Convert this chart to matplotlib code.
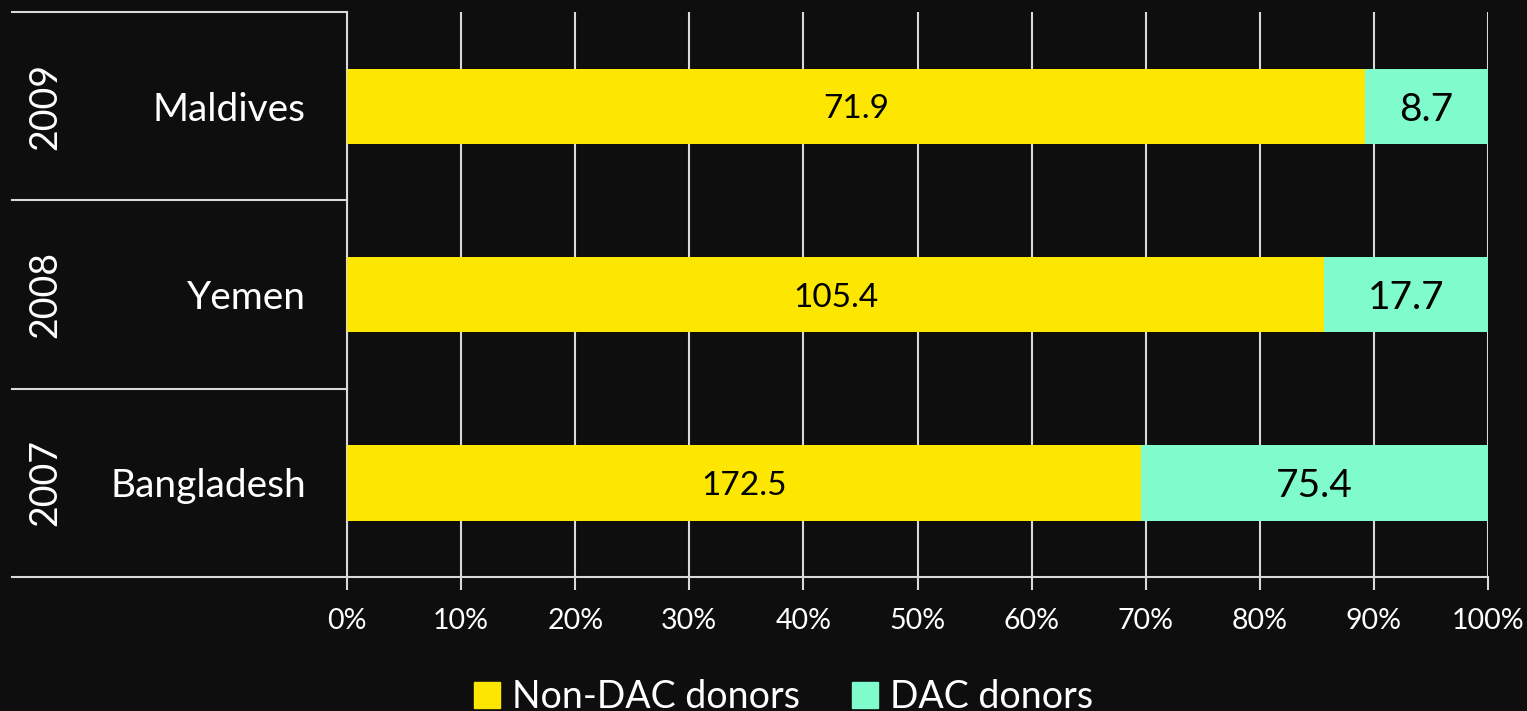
import matplotlib.pyplot as plt
import matplotlib.transforms as mtransforms
from matplotlib.patches import Patch

countries = ['Bangladesh', 'Yemen', 'Maldives']
years = ['2007', '2008', '2009']
non_dac = [172.5, 105.4, 71.9]
dac = [75.4, 17.7, 8.7]
tick_labels = ['0%', '10%', '20%', '30%', '40%', '50%', '60%', '70%', '80%', '90%', '100%']

bg = '#0e0e0e'
yellow = '#fde700'
mint = '#80fbcc'
line_c = '#d9d9d9'

plt.rcParams['font.family'] = ['Lato', 'DejaVu Sans']

fig = plt.figure(figsize=(15.27, 7.11), dpi=100, facecolor=bg)
ax = fig.add_axes([347 / 1527, 1 - 577 / 711, 1141 / 1527, 565 / 711])
ax.set_facecolor(bg)

totals = [a + b for a, b in zip(non_dac, dac)]
p1 = [a / t * 100 for a, t in zip(non_dac, totals)]
p2 = [b / t * 100 for b, t in zip(dac, totals)]
ypos = range(len(countries))

ax.barh(ypos, p1, height=0.4, color=yellow, zorder=3)
ax.barh(ypos, p2, left=p1, height=0.4, color=mint, zorder=3)

for i in ypos:
    ax.text(p1[i] / 2, i, f'{non_dac[i]}', ha='center', va='center_baseline',
            fontsize=24, color='black', zorder=4)
    ax.text(p1[i] + p2[i] / 2, i, f'{dac[i]}', ha='center', va='center_baseline',
            fontsize=28, color='black', zorder=4)

ax.set_xlim(0, 100)
ax.set_ylim(-0.5, 2.5)
ax.set_xticks(range(0, 101, 10))
ax.set_xticklabels(tick_labels, fontsize=20.5, color='white')
ax.tick_params(axis='x', colors=line_c, length=9, width=1.5, pad=13, labelcolor='white')
ax.set_yticks([])
ax.grid(axis='x', color=line_c, linewidth=1.5, zorder=1)

for s in ['top', 'right']:
    ax.spines[s].set_visible(False)
ax.spines['left'].set_color(line_c)
ax.spines['left'].set_linewidth(1.5)
ax.spines['bottom'].set_color(line_c)
ax.spines['bottom'].set_linewidth(1.5)

# category label area on the left
trans = mtransforms.blended_transform_factory(ax.transAxes, ax.transData)
x0 = (12 - 347) / 1141
for b in [-0.5, 0.5, 1.5, 2.5]:
    ax.plot([x0, 0], [b, b], color=line_c, linewidth=1.5, transform=trans, clip_on=False)
for i in ypos:
    ax.text((306 - 347) / 1141, i, countries[i], transform=trans, ha='right', va='center_baseline',
            fontsize=28, color='white')
    ax.text((45 - 347) / 1141, i, years[i], transform=trans, ha='center', va='center',
            fontsize=27, color='white', rotation=90)

handles = [Patch(color=yellow, label='Non-DAC donors'), Patch(color=mint, label='DAC donors')]
fig.legend(handles=handles, loc='center', bbox_to_anchor=(0.513, 0.02), ncol=2,
           frameon=False, fontsize=27, labelcolor='white', handlelength=0.7, handleheight=0.7,
           handletextpad=0.3, columnspacing=1.4)

fig.savefig('out.png', facecolor=bg)
